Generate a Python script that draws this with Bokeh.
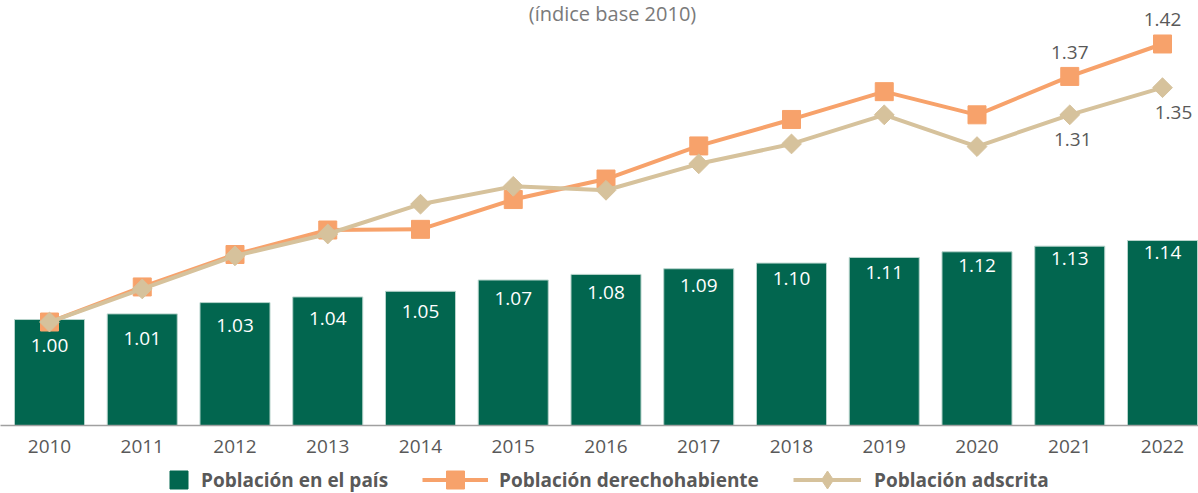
from bokeh.plotting import figure
from bokeh.layouts import column
from bokeh.models import ColumnDataSource, Range1d, FixedTicker, Legend, LegendItem, Label
from bokeh.core.properties import value
from bokeh.embed import file_html
from bokeh.resources import INLINE

# ---- data ----
years = [2010, 2011, 2012, 2013, 2014, 2015, 2016, 2017, 2018, 2019, 2020, 2021, 2022]
pais = [1.00, 1.01, 1.03, 1.04, 1.05, 1.07, 1.08, 1.09, 1.10, 1.11, 1.12, 1.13, 1.14]
derechohabiente = [1.000, 1.053, 1.102, 1.139, 1.140, 1.185, 1.216, 1.266, 1.306, 1.348, 1.313, 1.371, 1.420]
adscrita = [1.000, 1.050, 1.100, 1.133, 1.178, 1.205, 1.199, 1.239, 1.269, 1.313, 1.265, 1.313, 1.354]
series_names = ["Población en el país", "Población derechohabiente", "Población adscrita"]
subtitle = "(índice base 2010)"
labelled_years = [2021, 2022]

# ---- style ----
FONT = "Open Sans"
GREEN = "#02664F"
ORANGE = "#F7A26B"
TAN = "#D6C29C"
TXT = "#595959"

W = 1198
FRAME_H = 425
step = 92.75          # px per category
first_center = 49     # px from left of frame

p = figure(frame_width=W, frame_height=FRAME_H, output_backend="svg", toolbar_location=None,
           x_range=Range1d(years[0] - first_center / step, years[0] + (W - first_center) / step),
           y_range=Range1d(0.8122, 0.8122 + FRAME_H / 564.3),
           y_axis_location=None, min_border_left=0, min_border_right=0,
           min_border_top=0, min_border_bottom=38)
p.extra_y_ranges = {"idx": Range1d(0.8437, 0.8437 + FRAME_H / 662.0)}
p.outline_line_color = None
p.grid.visible = False
p.background_fill_color = "white"
p.border_fill_color = "white"

ax = p.xaxis[0]
ax.ticker = FixedTicker(ticks=years)
ax.major_label_overrides = {y: str(y) for y in years}
ax.major_tick_line_color = None
ax.minor_tick_line_color = None
ax.axis_line_color = "#A0A0A0"
ax.axis_line_width = 1.5
ax.major_label_standoff = 8
ax.major_label_text_font = FONT
ax.major_label_text_font_size = "19px"
ax.major_label_text_color = TXT

src = ColumnDataSource(dict(x=years, pais=pais, der=derechohabiente, ads=adscrita,
                            plab=["%.2f" % v for v in pais]))

# bars
p.vbar(x="x", top="pais", bottom=0, width=0.755, source=src,
       fill_color=GREEN, line_color="#b8d4cc", line_width=1)
p.text(x="x", y="pais", text="plab", source=src, y_range_name="idx", y_offset=23,
       text_align="center", text_baseline="middle", text_color="white",
       text_font=value(FONT), text_font_size="19px")

# lines
l1 = p.line(x="x", y="der", source=src, y_range_name="idx", line_color=ORANGE, line_width=4)
m1 = p.scatter(x="x", y="der", source=src, y_range_name="idx", marker="square",
               size=18, fill_color=ORANGE, line_color=ORANGE)
l2 = p.line(x="x", y="ads", source=src, y_range_name="idx", line_color=TAN, line_width=4)
m2 = p.scatter(x="x", y="ads", source=src, y_range_name="idx", marker="square", angle=0.7854,
               size=14, fill_color=TAN, line_color=TAN)

# line value labels
idx = [years.index(y) for y in labelled_years]
der_lab = ColumnDataSource(dict(x=[years[i] for i in idx], y=[derechohabiente[i] for i in idx],
                                t=["%.2f" % derechohabiente[i] for i in idx]))
ads_lab = ColumnDataSource(dict(x=[years[i] for i in idx], y=[adscrita[i] for i in idx],
                                t=["%.2f" % adscrita[i] for i in idx], dx=[3, 11]))
p.text(x="x", y="y", text="t", source=der_lab, y_range_name="idx", y_offset=-24,
       text_align="center", text_baseline="middle", text_color=TXT,
       text_font=value(FONT), text_font_size="19px")
p.text(x="x", y="y", text="t", source=ads_lab, y_range_name="idx", y_offset=25, x_offset="dx",
       text_align="center", text_baseline="middle", text_color=TXT,
       text_font=value(FONT), text_font_size="19px")

# subtitle
p.add_layout(Label(x=612, y=FRAME_H - 13, x_units="screen", y_units="screen", text=subtitle,
                   text_align="center", text_baseline="middle", text_font=FONT,
                   text_font_size="20px", text_color="#7A7A7A"))

# ---- legend strip ----
lg_fig = figure(width=W, height=30, output_backend="svg", toolbar_location=None,
                x_range=Range1d(0, 1), y_range=Range1d(0, 1),
                x_axis_location=None, y_axis_location=None,
                min_border_left=0, min_border_right=0, min_border_top=0, min_border_bottom=0)
lg_fig.outline_line_color = None
lg_fig.grid.visible = False
lg_fig.border_fill_color = "white"

nan = float("nan")
e = dict(x=[nan], y=[nan])
g_sq = lg_fig.scatter(x="x", y="y", source=ColumnDataSource(e), marker="square", size=19,
                      fill_color=GREEN, line_color=GREEN)
o_ln = lg_fig.line(x="x", y="y", source=ColumnDataSource(e), line_color=ORANGE, line_width=4)
o_mk = lg_fig.scatter(x="x", y="y", source=ColumnDataSource(e), marker="square", size=18,
                      fill_color=ORANGE, line_color=ORANGE)
t_ln = lg_fig.line(x="x", y="y", source=ColumnDataSource(e), line_color=TAN, line_width=4)
t_mk = lg_fig.scatter(x="x", y="y", source=ColumnDataSource(e), marker="diamond",
                      size=18, fill_color=TAN, line_color=TAN)

GH = 45  # legend glyph box height (marker size = 0.4 * GH)


def add_legend(items, x, gw, standoff):
    lg = Legend(items=items, location=(x, -9), orientation="horizontal",
                glyph_width=gw, glyph_height=GH, label_standoff=standoff,
                padding=0, margin=0, spacing=0, border_line_color=None,
                background_fill_alpha=0, label_text_font=FONT,
                label_text_font_size="19px", label_text_font_style="bold",
                label_text_color=TXT)
    lg_fig.add_layout(lg, "center")


add_legend([LegendItem(label=series_names[0], renderers=[g_sq])], 156, GH, 0)
add_legend([LegendItem(label=series_names[1], renderers=[o_ln, o_mk])], 422, 66, 11)
add_legend([LegendItem(label=series_names[2], renderers=[t_ln, t_mk])], 793, 68, 13)

layout = column(p, lg_fig, spacing=0)
open("out.html", "w").write(file_html(layout, INLINE))
